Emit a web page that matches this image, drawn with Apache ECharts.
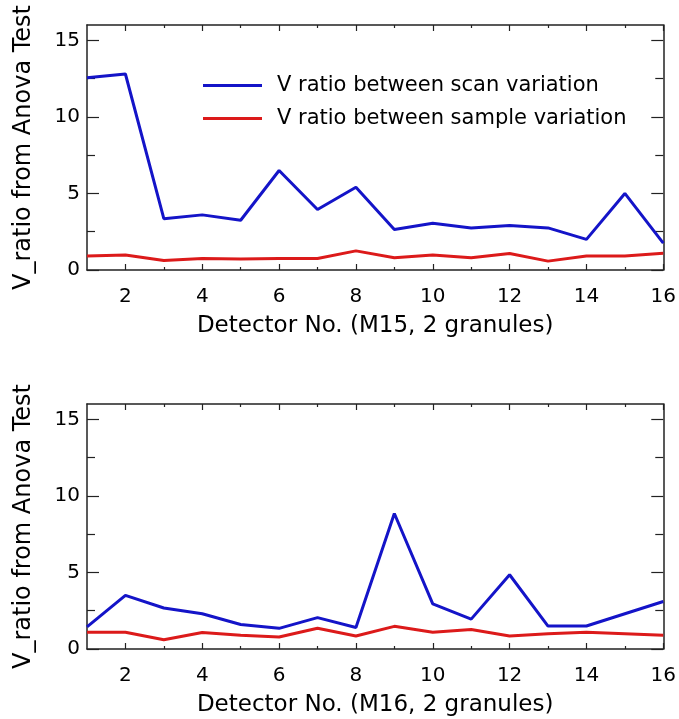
<!DOCTYPE html>
<html>
<head>
<meta charset="utf-8">
<script src="https://cdn.jsdelivr.net/npm/echarts@6/dist/echarts.min.js"></script>
<style>
  html, body { margin: 0; padding: 0; background: #fff; }
  #chart { width: 679px; height: 719px; }
</style>
</head>
<body>
<div id="chart"></div>
<script>
// Detector numbers along the x axis
const detectors = [1, 2, 3, 4, 5, 6, 7, 8, 9, 10, 11, 12, 13, 14, 15, 16];

// V ratio per detector, band M15
const m15Scan   = [12.55, 12.8, 3.35, 3.6, 3.25, 6.5, 3.95, 5.4, 2.65, 3.05, 2.75, 2.9, 2.75, 2.0, 5.0, 1.75];
const m15Sample = [0.92, 0.98, 0.62, 0.75, 0.72, 0.75, 0.75, 1.25, 0.8, 0.98, 0.8, 1.08, 0.58, 0.92, 0.92, 1.1];

// V ratio per detector, band M16
const m16Scan   = [1.45, 3.5, 2.68, 2.3, 1.6, 1.35, 2.05, 1.4, 8.85, 2.95, 1.95, 4.85, 1.5, 1.5, 2.3, 3.1];
const m16Sample = [1.1, 1.1, 0.6, 1.08, 0.9, 0.78, 1.35, 0.85, 1.48, 1.1, 1.28, 0.85, 1.0, 1.1, 1.0, 0.9];

// Tick positions
const xMajorTicks = [2, 4, 6, 8, 10, 12, 14, 16];
const xMinorTicks = [3, 5, 7, 9, 11, 13, 15];
const yMajorTicks = [0, 5, 10, 15];
const yMinorTicks = [2.5, 7.5, 12.5];

const xTitles = ['Detector No. (M15, 2 granules)', 'Detector No. (M16, 2 granules)'];
const yTitle = 'V_ratio from Anova Test';
const scanName = 'V ratio between scan variation';
const sampleName = 'V ratio between sample variation';

const FONT = 'DejaVu Sans';
const AXIS_COLOR = '#222';
const BLUE = '#1414c8';
const RED = '#dc1a1a';

const grids = [
  { left: 87, width: 577, top: 25, height: 245 },
  { left: 87, width: 577, top: 404, height: 245 }
];

const xAxes = [];
const yAxes = [];

function pairs(xs, ys) { return xs.map((x, i) => [x, ys[i]]); }

grids.forEach((g, gi) => {
  // bottom axis with labels and long ticks
  xAxes.push({
    gridIndex: gi, type: 'value', min: 1, max: 16, position: 'bottom',
    name: xTitles[gi], nameLocation: 'middle', nameGap: 45,
    nameTextStyle: { fontFamily: FONT, fontSize: 23, color: '#000' },
    axisLine: { show: true, onZero: false, lineStyle: { color: AXIS_COLOR, width: 1.5 } },
    axisTick: { show: true, inside: true, length: 6, customValues: xMajorTicks, lineStyle: { color: AXIS_COLOR, width: 1.2 } },
    axisLabel: { show: true, customValues: xMajorTicks, margin: 17, fontFamily: FONT, fontSize: 20, color: '#000' },
    splitLine: { show: false }
  });
  // bottom axis, short ticks
  xAxes.push({
    gridIndex: gi, type: 'value', min: 1, max: 16, position: 'bottom',
    axisLine: { show: false, onZero: false },
    axisTick: { show: true, inside: true, length: 3, customValues: xMinorTicks, lineStyle: { color: AXIS_COLOR, width: 1.2 } },
    axisLabel: { show: false }, splitLine: { show: false }
  });
  // top axis, long ticks
  xAxes.push({
    gridIndex: gi, type: 'value', min: 1, max: 16, position: 'top',
    axisLine: { show: true, onZero: false, lineStyle: { color: AXIS_COLOR, width: 1.5 } },
    axisTick: { show: true, inside: true, length: 6, customValues: xMajorTicks, lineStyle: { color: AXIS_COLOR, width: 1.2 } },
    axisLabel: { show: false }, splitLine: { show: false }
  });
  // top axis, short ticks
  xAxes.push({
    gridIndex: gi, type: 'value', min: 1, max: 16, position: 'top',
    axisLine: { show: false, onZero: false },
    axisTick: { show: true, inside: true, length: 3, customValues: xMinorTicks, lineStyle: { color: AXIS_COLOR, width: 1.2 } },
    axisLabel: { show: false }, splitLine: { show: false }
  });

  // left axis with labels
  yAxes.push({
    gridIndex: gi, type: 'value', min: 0, max: 16, position: 'left',
    name: yTitle, nameLocation: 'middle', nameGap: 51, nameRotate: 90,
    nameTextStyle: { fontFamily: FONT, fontSize: 24, color: '#000' },
    axisLine: { show: true, onZero: false, lineStyle: { color: AXIS_COLOR, width: 1.5 } },
    axisTick: { show: true, inside: true, length: 12, customValues: yMajorTicks, lineStyle: { color: AXIS_COLOR, width: 1.2 } },
    axisLabel: { show: true, customValues: yMajorTicks, margin: 7, fontFamily: FONT, fontSize: 20, color: '#000' },
    splitLine: { show: false }
  });
  // left axis, short ticks
  yAxes.push({
    gridIndex: gi, type: 'value', min: 0, max: 16, position: 'left',
    axisLine: { show: false, onZero: false },
    axisTick: { show: true, inside: true, length: 8, customValues: yMinorTicks, lineStyle: { color: AXIS_COLOR, width: 1.2 } },
    axisLabel: { show: false }, splitLine: { show: false }
  });
  // right axis, long ticks
  yAxes.push({
    gridIndex: gi, type: 'value', min: 0, max: 16, position: 'right',
    axisLine: { show: true, onZero: false, lineStyle: { color: AXIS_COLOR, width: 1.5 } },
    axisTick: { show: true, inside: true, length: 12, customValues: yMajorTicks, lineStyle: { color: AXIS_COLOR, width: 1.2 } },
    axisLabel: { show: false }, splitLine: { show: false }
  });
  // right axis, short ticks
  yAxes.push({
    gridIndex: gi, type: 'value', min: 0, max: 16, position: 'right',
    axisLine: { show: false, onZero: false },
    axisTick: { show: true, inside: true, length: 8, customValues: yMinorTicks, lineStyle: { color: AXIS_COLOR, width: 1.2 } },
    axisLabel: { show: false }, splitLine: { show: false }
  });
});

function lineSeries(name, gi, ys, color) {
  return {
    name: name, type: 'line',
    xAxisIndex: gi * 4, yAxisIndex: gi * 4,
    data: pairs(detectors, ys),
    symbol: 'none', smooth: false, animation: false,
    lineStyle: { color: color, width: 3 },
    itemStyle: { color: color },
    clip: true
  };
}

const option = {
  backgroundColor: '#fff',
  animation: false,
  grid: grids,
  xAxis: xAxes,
  yAxis: yAxes,
  legend: {
    orient: 'vertical', left: 198, top: 70,
    data: [scanName, sampleName],
    icon: 'rect',
    itemWidth: 59, itemHeight: 3, itemGap: 12,
    selectedMode: false,
    textStyle: { fontFamily: FONT, fontSize: 21, lineHeight: 21, color: '#000', padding: [0, 0, 0, 10] }
  },
  series: [
    lineSeries(scanName, 0, m15Scan, BLUE),
    lineSeries(sampleName, 0, m15Sample, RED),
    lineSeries(scanName, 1, m16Scan, BLUE),
    lineSeries(sampleName, 1, m16Sample, RED)
  ]
};

const chart = echarts.init(document.getElementById('chart'), null, { renderer: 'canvas' });
chart.setOption(option);
</script>
</body>
</html>
